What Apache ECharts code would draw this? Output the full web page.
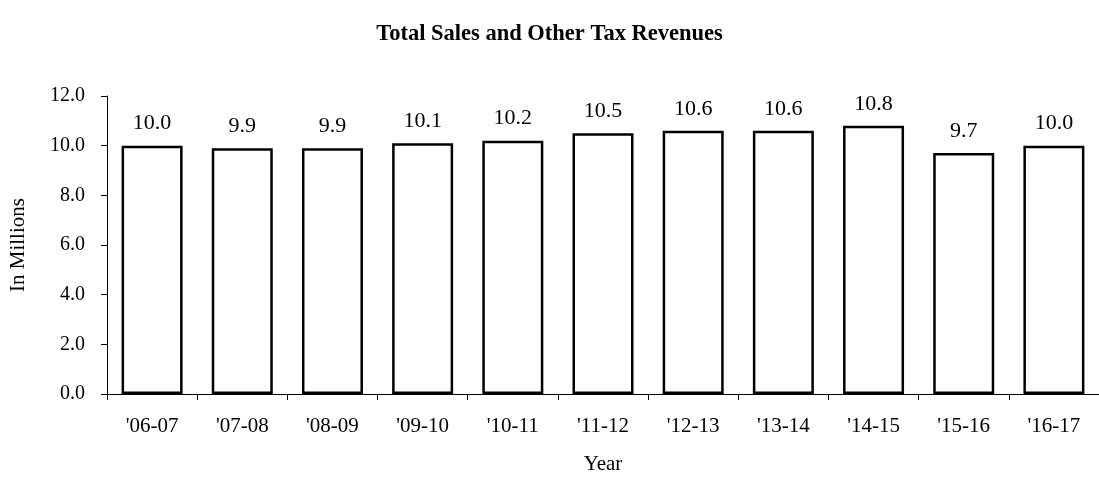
<!DOCTYPE html>
<html>
<head>
<meta charset="utf-8">
<script src="https://cdn.jsdelivr.net/npm/echarts@6/dist/echarts.min.js"></script>
<style>
  html, body { margin: 0; padding: 0; background: #fff; overflow: hidden; }
  #chart { width: 100vw; height: 100vh; }
</style>
</head>
<body>
<div id="chart"></div>
<script>
// 年份
const years = ["'06-07", "'07-08", "'08-09", "'09-10", "'10-11", "'11-12", "'12-13", "'13-14", "'14-15", "'15-16", "'16-17"]
// 收入（百万）
const revenues = [10.0, 9.9, 9.9, 10.1, 10.2, 10.5, 10.6, 10.6, 10.8, 9.7, 10.0]

const serif = '"Liberation Serif", "DejaVu Serif", serif'

const chart = echarts.init(document.getElementById('chart'))
chart.setOption({
  animation: false,
  title: {
    text: 'Total Sales and Other Tax Revenues',
    left: 'center',
    top: 18,
    textStyle: { fontFamily: serif, fontSize: 22.5, fontWeight: 'bold', color: '#000' }
  },
  grid: {
    left: 103,
    top: 96,
    right: -9,
    bottom: 81,
    containLabel: false
  },
  xAxis: {
    type: 'category',
    data: years,
    name: 'Year',
    nameLocation: 'middle',
    nameGap: 60,
    nameTextStyle: { fontFamily: serif, fontSize: 21, color: '#000' },
    axisLine: { lineStyle: { color: '#000', width: 1 } },
    axisTick: { show: true, length: 6, lineStyle: { color: '#000' } },
    axisLabel: { fontFamily: serif, fontSize: 21, color: '#000', margin: 22 }
  },
  yAxis: {
    type: 'value',
    min: 0,
    max: 12,
    interval: 2,
    name: 'In Millions',
    nameLocation: 'middle',
    nameGap: 78,
    nameRotate: 90,
    nameTextStyle: { fontFamily: serif, fontSize: 21, color: '#000' },
    axisLine: { show: true, lineStyle: { color: '#000', width: 1 } },
    axisTick: { show: true, length: 6, lineStyle: { color: '#000' } },
    splitLine: { show: false },
    axisLabel: {
      fontFamily: serif,
      fontSize: 20,
      color: '#000',
      margin: 22,
      formatter: (v) => v.toFixed(1)
    }
  },
  series: [
    {
      type: 'bar',
      data: revenues,
      barWidth: 61,
      itemStyle: { color: '#fff', borderColor: '#000', borderWidth: 2.5 },
      label: {
        show: true,
        position: 'top',
        distance: 11,
        fontFamily: serif,
        fontSize: 22,
        color: '#000',
        formatter: (p) => p.value.toFixed(1)
      }
    }
  ]
})
</script>
</body>
</html>
